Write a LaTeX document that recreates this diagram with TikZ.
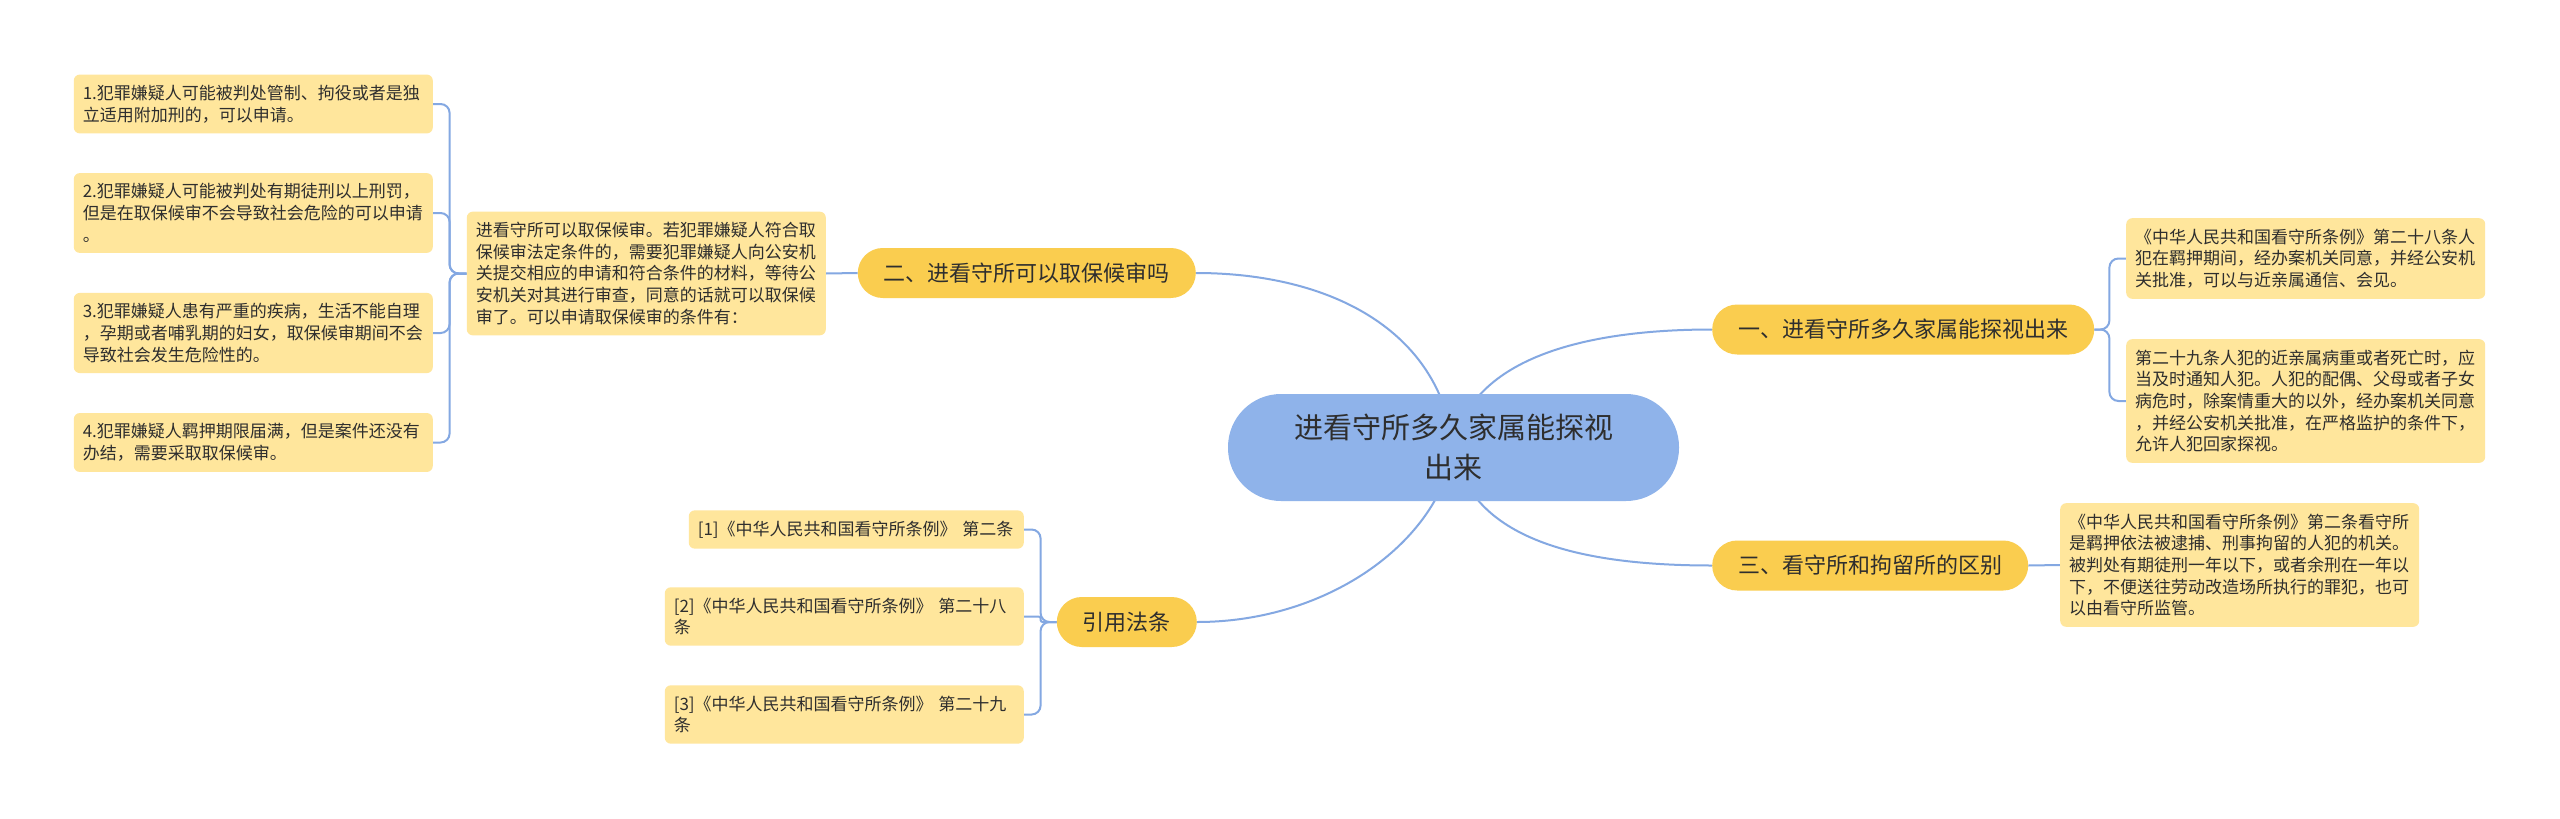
\documentclass[tikz,border=0pt]{standalone}
\usepackage{fontspec}
\setmainfont{Noto Sans CJK SC}
\usetikzlibrary{backgrounds}
\definecolor{leafyellow}{HTML}{FFE69C}
\definecolor{pillyellow}{HTML}{FACD4F}
\definecolor{hubblue}{HTML}{8FB3EA}
\definecolor{wireblue}{HTML}{84A8E2}
\definecolor{inkgray}{HTML}{2E2E2E}

\begin{document}
\begin{tikzpicture}[x=1pt,y=-1pt,
leaf/.style={fill=leafyellow,rounded corners=6pt,text=inkgray,align=left,text width=341pt,
  inner xsep=9pt,inner ysep=10.5pt,font=\fontsize{17}{21.7}\selectfont},
pill/.style={fill=pillyellow,rounded corners=25pt,text=inkgray,minimum height=50pt,
  inner xsep=26pt,inner ysep=0pt,font=\fontsize{22}{26}\selectfont},
hub/.style={fill=hubblue,rounded corners=53pt,text=inkgray,align=center,text width=340pt,
  minimum width=451pt,minimum height=107pt,font=\fontsize{29}{40}\selectfont},
wire/.style={draw=wireblue,line width=2pt},
forkwire/.style={wire,rounded corners=9pt}]
\useasboundingbox (0,0) rectangle (2560,819);
\node[hub] (R) at (1453.5,447.5) {进看守所多久家属能探视\\出来};
\node[pill,anchor=east] (P2) at (1196,273) {二、进看守所可以取保候审吗};
\node[leaf,anchor=east] (Q) at (826,273.5) {进看守所可以取保候审。若犯罪嫌疑人符合取\\保候审法定条件的，需要犯罪嫌疑人向公安机\\关提交相应的申请和符合条件的材料，等待公\\安机关对其进行审查，同意的话就可以取保候\\审了。可以申请取保候审的条件有：};
\node[leaf,anchor=east] (Q1) at (433,104) {1.犯罪嫌疑人可能被判处管制、拘役或者是独\\立适用附加刑的，可以申请。};
\node[leaf,anchor=east] (Q2) at (433,213) {2.犯罪嫌疑人可能被判处有期徒刑以上刑罚，\\但是在取保候审不会导致社会危险的可以申请\\。};
\node[leaf,anchor=east] (Q3) at (433,333) {3.犯罪嫌疑人患有严重的疾病，生活不能自理\\，孕期或者哺乳期的妇女，取保候审期间不会\\导致社会发生危险性的。};
\node[leaf,anchor=east] (Q4) at (433,442.5) {4.犯罪嫌疑人羁押期限届满，但是案件还没有\\办结，需要采取取保候审。};
\node[pill,anchor=east] (P4) at (1197,622) {引用法条};
\node[leaf,anchor=east,text width=317pt] (F1) at (1024,529.5) {[1]《中华人民共和国看守所条例》 第二条};
\node[leaf,anchor=east] (F2) at (1024,616.5) {[2]《中华人民共和国看守所条例》 第二十八\\条};
\node[leaf,anchor=east] (F3) at (1024,714.5) {[3]《中华人民共和国看守所条例》 第二十九\\条};
\node[pill,anchor=west] (P1) at (1712,329.5) {一、进看守所多久家属能探视出来};
\node[leaf,anchor=west] (A1) at (2126,258.5) {《中华人民共和国看守所条例》第二十八条人\\犯在羁押期间，经办案机关同意，并经公安机\\关批准，可以与近亲属通信、会见。};
\node[leaf,anchor=west] (A2) at (2126,401) {第二十九条人犯的近亲属病重或者死亡时，应\\当及时通知人犯。人犯的配偶、父母或者子女\\病危时，除案情重大的以外，经办案机关同意\\，并经公安机关批准，在严格监护的条件下，\\允许人犯回家探视。};
\node[pill,anchor=west] (P3) at (1712,565.5) {三、看守所和拘留所的区别};
\node[leaf,anchor=west] (C1) at (2060,565) {《中华人民共和国看守所条例》第二条看守所\\是羁押依法被逮捕、刑事拘留的人犯的机关。\\被判处有期徒刑一年以下，或者余刑在一年以\\下，不便送往劳动改造场所执行的罪犯，也可\\以由看守所监管。};
\begin{scope}[on background layer]
\fill[white] (0,0) rectangle (2560,819);
\draw[wire] (R.center) .. controls (1440,330) and (1330,273) .. (P2.east);
\draw[wire] (R.center) .. controls (1470,360) and (1580,329.5) .. (P1.west);
\draw[wire] (R.center) .. controls (1440,540) and (1330,622) .. (P4.east);
\draw[wire] (R.center) .. controls (1470,540) and (1580,565.5) .. (P3.west);
\draw[wire] (P2.west) -- (Q.east);
\draw[forkwire] (Q.west) -- ++(-17,0) |- (Q1.east);
\draw[forkwire] (Q.west) -- ++(-17,0) |- (Q2.east);
\draw[forkwire] (Q.west) -- ++(-17,0) |- (Q3.east);
\draw[forkwire] (Q.west) -- ++(-17,0) |- (Q4.east);
\draw[forkwire] (P4.west) -- ++(-16,0) |- (F1.east);
\draw[forkwire,rounded corners=2pt] (P4.west) -- ++(-16,0) |- (F2.east);
\draw[forkwire] (P4.west) -- ++(-16,0) |- (F3.east);
\draw[forkwire] (P1.east) -- ++(15,0) |- (A1.west);
\draw[forkwire] (P1.east) -- ++(15,0) |- (A2.west);
\draw[wire] (P3.east) -- (C1.west);
\end{scope}
\end{tikzpicture}
\end{document}
